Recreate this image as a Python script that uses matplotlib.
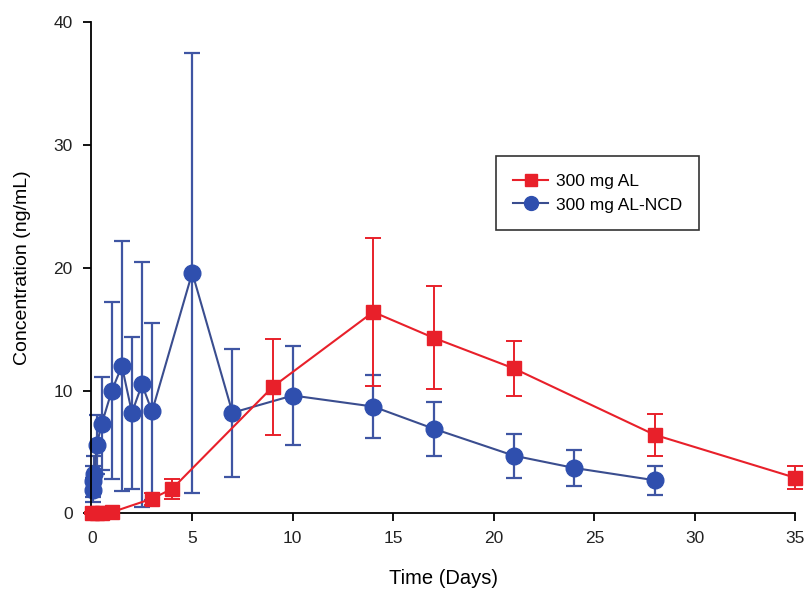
import numpy as np
import matplotlib
matplotlib.use('Agg')
import matplotlib.pyplot as plt
from matplotlib.lines import Line2D

plt.rcParams['font.family'] = ['Liberation Sans', 'DejaVu Sans']

# 300 mg AL (red squares)
t_al = [0, 0.25, 0.5, 1, 3, 4, 9, 14, 17, 21, 28, 35]
c_al = [0.05, 0.05, 0.05, 0.1, 1.2, 2.0, 10.3, 16.4, 14.3, 11.8, 6.4, 2.9]
sd_al = [0.1, 0.1, 0.1, 0.1, 0.5, 0.8, 3.9, 6.0, 4.2, 2.2, 1.7, 0.95]

# 300 mg AL-NCD (blue circles)
t_ncd = [0.04, 0.08, 0.125, 0.25, 0.5, 1, 1.5, 2, 2.5, 3, 5, 7, 10, 14, 17, 21, 24, 28]
c_ncd = [1.9, 2.6, 3.2, 5.6, 7.3, 10.0, 12.0, 8.2, 10.5, 8.3, 19.6, 8.2, 9.6, 8.7, 6.9, 4.7, 3.7, 2.7]
sd_ncd = [1.0, 1.3, 1.5, 2.4, 3.8, 7.2, 10.2, 6.2, 10.0, 7.2, 17.9, 5.2, 4.0, 2.6, 2.2, 1.8, 1.5, 1.2]

red = '#e8202a'
blue = '#2f4fae'
blue_line = '#3a4d8f'

fig = plt.figure(figsize=(8.1, 5.97), dpi=100)
ax = fig.add_axes([0.112, 0.140, 0.870, 0.823])

ax.errorbar(t_al, c_al, yerr=sd_al, color=red, ecolor=red, elinewidth=1.4,
            capsize=5.5, capthick=1.4, lw=1.5, marker='s', ms=10,
            mfc=red, mec=red, zorder=3, clip_on=False)
ax.errorbar(t_ncd, c_ncd, yerr=sd_ncd, color=blue_line, ecolor='#3f55a3',
            elinewidth=1.6, capsize=5.5, capthick=1.6, lw=1.5, marker='o',
            ms=12, mfc=blue, mec=blue, zorder=2, clip_on=False)

ax.set_xlim(-0.05, 35)
ax.set_ylim(0, 40)
ax.set_xticks(np.arange(0, 36, 5))
ax.set_yticks(np.arange(0, 41, 10))
for s in ['top', 'right']:
    ax.spines[s].set_visible(False)
for s in ['left', 'bottom']:
    ax.spines[s].set_linewidth(1.3)
ax.tick_params(direction='out', length=6, width=1.3, labelsize=12.5, pad=7,
               labelcolor='#222222')
ax.set_xlabel('Time (Days)', fontsize=14.5, labelpad=16)
ax.set_ylabel('Concentration (ng/mL)', fontsize=14, labelpad=16)

# legend handles without the error bars
handles = [
    Line2D([], [], color=red, lw=1.5, marker='s', ms=9, mfc=red, mec=red),
    Line2D([], [], color=blue_line, lw=1.5, marker='o', ms=10, mfc=blue, mec=blue),
]
leg = ax.legend(handles, ['300 mg AL', '300 mg AL-NCD'], loc='upper left',
                bbox_to_anchor=(0.575, 0.727), fontsize=12.5, frameon=True,
                fancybox=False, edgecolor='black', handlelength=2.0,
                borderpad=1.0, labelspacing=0.5, handletextpad=0.45,
                borderaxespad=0)
leg.get_frame().set_linewidth(1.2)

fig.savefig('out.png', dpi=100)
